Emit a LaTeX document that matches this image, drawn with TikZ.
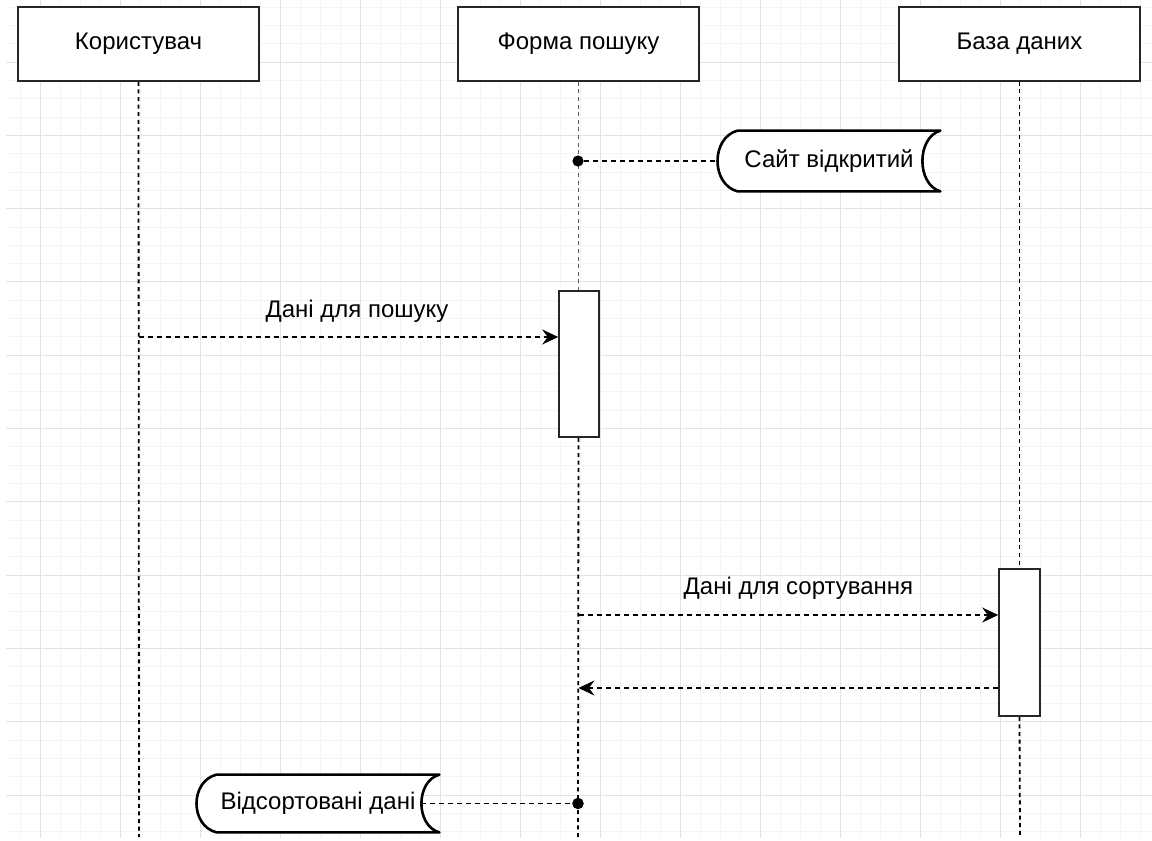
\documentclass[tikz,border=0pt]{standalone}
\usepackage{fontspec}
\setmainfont{Liberation Sans}
\usetikzlibrary{arrows.meta,calc}
\definecolor{gridminor}{gray}{0.955}
\definecolor{gridmajor}{gray}{0.89}
\tikzset{
  lbox/.style={draw=black!85, line width=0.8pt, fill=white, minimum width=120.5pt, minimum height=37pt, inner sep=0pt, font=\fontsize{12}{14}\selectfont},
  life/.style={dash pattern=on 2pt off 1.8pt, line width=0.9pt, black},
  actbox/.style={draw=black!85, line width=0.8pt, fill=white, minimum width=20pt, minimum height=73pt, inner sep=0pt},
  msg/.style={dash pattern=on 2.5pt off 2pt, line width=0.7pt, -{Stealth[length=8pt,width=7.5pt,inset=2.8pt]}},
  plainline/.style={dash pattern=on 2.5pt off 2pt, line width=0.75pt},
  lbl/.style={font=\fontsize{12}{14}\selectfont, inner sep=0pt},
  dot/.style={circle, fill=black, minimum size=5.6pt, inner sep=0pt},
  storebox/.style={inner sep=0pt, font=\fontsize{12}{14}\selectfont},
  storeline/.style={line width=1.3pt, fill=white, line join=round},
}
\begin{document}
\begin{tikzpicture}[x=0.5pt,y=-0.5pt]
\useasboundingbox (0,0) rectangle (1152,841);
\fill[white] (0,0) rectangle (1152,841);
% grid
\foreach \i in {1,...,57}{\draw[gridminor,line width=0.5pt] (20*\i,0) -- (20*\i,838);}
\foreach \k in {0,...,45}{\draw[gridminor,line width=0.5pt] (6,7+18.333*\k) -- (1152,7+18.333*\k);}
\foreach \i in {2,6,...,57}{\draw[gridmajor,line width=0.5pt] (20*\i,0) -- (20*\i,838);}
\foreach \k in {3,7,...,45}{\draw[gridmajor,line width=0.5pt] (6,7+18.333*\k) -- (1152,7+18.333*\k);}

% header boxes
\node[lbox] (u) at (138.5,44) {Користувач};
\node[lbox] (f) at (578.5,44) {Форма пошуку};
\node[lbox] (b) at (1019.5,44) {База даних};

% activation boxes (positions)
\node[actbox, draw=none, fill=none] (a1) at (579,364) {};
\node[actbox, draw=none, fill=none, minimum width=20.5pt, minimum height=73.5pt] (a2) at (1019.5,642.5) {};

\coordinate (uend) at (139,837);
\coordinate (fend) at (578,837);
\coordinate (bend) at (1020,837);

% lifelines
\draw[life] (u.south) -- (uend);
\draw[life, black!65] (f.south) -- (f.south |- a1.north);
\draw[life] (f.south |- a1.south) -- (fend);
\draw[life] (b.south) -- (b.south |- a2.north);
\draw[life] (b.south |- a2.south) -- (bend);

% activation boxes drawn
\node[actbox] at (a1) {};
\node[actbox, minimum width=20.5pt, minimum height=73.5pt] at (a2) {};

% messages
\draw[msg] (u |- 0,337) -- (a1.west |- 0,337);
\node[lbl] (l1) at (357,311) {Дані для пошуку};
\draw[msg] (f |- 0,615) -- (a2.west |- 0,615);
\node[lbl] (l2) at (798.5,588) {Дані для сортування};
\draw[msg] (a2.west |- 0,688) -- (f |- 0,688);

% state shapes
\node[storebox, minimum width=111pt, minimum height=30pt] (s1) at (829,161) {};
\node[dot] (d1) at (578,161) {};
\draw[plainline] (d1) -- (s1.west);
\draw[storeline] ([xshift=10pt]s1.north west) -- (s1.north east)
  .. controls ([xshift=-12pt,yshift=-3.5pt]s1.north east) and ([xshift=-12pt,yshift=3.5pt]s1.south east) .. (s1.south east)
  -- ([xshift=10pt]s1.south west)
  .. controls ([xshift=-3.4pt,yshift=3.5pt]s1.south west) and ([xshift=-3.4pt,yshift=-3.5pt]s1.north west) .. cycle;
\node[storebox] at (s1) {Сайт відкритий};

\node[storebox, minimum width=121pt, minimum height=28.5pt] (s2) at (318,803.5) {};
\node[dot] (d2) at (578,803.5) {};
\coordinate (s2r) at ([xshift=-9pt]s2.east);
\draw[plainline] (s2r) -- (d2);
\draw[storeline] ([xshift=10pt]s2.north west) -- (s2.north east)
  .. controls ([xshift=-12pt,yshift=-3.3pt]s2.north east) and ([xshift=-12pt,yshift=3.3pt]s2.south east) .. (s2.south east)
  -- ([xshift=10pt]s2.south west)
  .. controls ([xshift=-3.4pt,yshift=3.3pt]s2.south west) and ([xshift=-3.4pt,yshift=-3.3pt]s2.north west) .. cycle;
\node[storebox] at (s2) {Відсортовані дані};
\node[dot] at (d2) {};
\end{tikzpicture}
\end{document}
